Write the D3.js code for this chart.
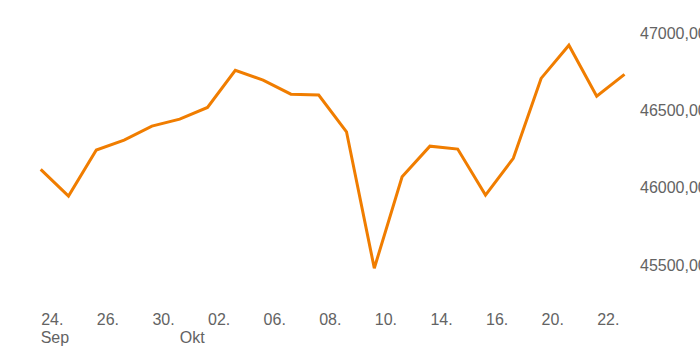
<!DOCTYPE html>
<html>
<head>
<meta charset="utf-8">
<script src="https://cdn.jsdelivr.net/npm/d3@7"></script>
<style>
  html, body { margin: 0; padding: 0; background: #fff; }
  svg { display: block; }
  text { font-family: "Liberation Sans", Arial, sans-serif; fill: #636363; }
</style>
</head>
<body>
<svg id="chart" width="700" height="350"></svg>
<script>
// Trading days (day of month) and their month
const days   = [24, 25, 26, 27, 30, 1, 2, 3, 6, 7, 8, 9, 10, 13, 14, 15, 16, 17, 20, 21, 22, 23];
const months = ["Sep","Sep","Sep","Sep","Sep","Okt","Okt","Okt","Okt","Okt","Okt","Okt","Okt","Okt","Okt","Okt","Okt","Okt","Okt","Okt","Okt","Okt"];
// Closing values
const values = [46120, 45947, 46245, 46309, 46400, 46445, 46521, 46762, 46698, 46607, 46601,
                46363, 45479, 46072, 46270, 46251, 45953, 46191, 46709, 46924, 46594, 46735];
// Days that carry a tick label (every second trading day)
const labelledIdx = [0, 2, 4, 6, 8, 10, 12, 14, 16, 18, 20];
// Value axis ticks
const yTicks = [45500, 46000, 46500, 47000];

const svg = d3.select("#chart");
const FONT = 16;
const TEXT = "#636363";

const x = d3.scaleLinear().domain([0, values.length - 1]).range([40.7, 624.5]);
const y = d3.scaleLinear().domain([45500, 47000]).range([265, 33.5]);

// Value axis on the right, labels only
const fmt = v => d3.format(".2f")(v).replace(".", ",");
const yAxis = d3.axisRight(y).tickValues(yTicks).tickSize(0).tickPadding(0).tickFormat(fmt);
const gy = svg.append("g").attr("transform", "translate(640,0)").call(yAxis);
gy.select(".domain").remove();
gy.selectAll("text")
  .attr("font-size", FONT)
  .attr("font-family", null)
  .attr("fill", TEXT)
  .attr("text-anchor", "start");

// Date axis: day numbers, month name under the first day of each month
const xAxis = d3.axisBottom(x).tickValues(labelledIdx).tickSize(0).tickPadding(0)
  .tickFormat(i => String(days[i]).padStart(2, "0") + ".");
const gx = svg.append("g").attr("transform", "translate(0,313.5)").call(xAxis);
gx.select(".domain").remove();
gx.selectAll("text")
  .attr("font-size", FONT)
  .attr("font-family", null)
  .attr("fill", TEXT)
  .attr("text-anchor", "start")
  .attr("dy", "0.71em");

const monthStarts = months.map((m, i) => i).filter(i => i === 0 || months[i] !== months[i - 1]);
svg.append("g").selectAll("text")
  .data(monthStarts)
  .join("text")
  .attr("x", i => x(i))
  .attr("y", 342.5)
  .attr("font-size", FONT)
  .attr("fill", TEXT)
  .text(i => months[i]);

// Price line
const line = d3.line().x((d, i) => x(i)).y(d => y(d));
svg.append("path")
  .datum(values)
  .attr("fill", "none")
  .attr("stroke", "#f07d00")
  .attr("stroke-width", 3)
  .attr("stroke-linejoin", "miter")
  .attr("d", line);
</script>
</body>
</html>
